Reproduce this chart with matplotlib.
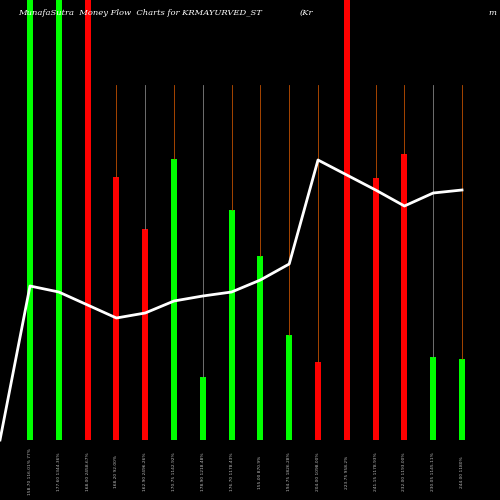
import matplotlib
matplotlib.use("Agg")
import matplotlib.pyplot as plt
import numpy as np

# bar heights (pixels above baseline), colours, line values
volumes = [520, 520, 520, 263, 211, 281, 63, 230, 184, 105, 78, 520, 262, 286, 83, 81]
colors = ["lime", "lime", "red", "red", "red", "lime", "lime", "lime", "lime", "lime",
          "red", "red", "red", "red", "lime", "lime"]
flow = [214, 208, 195, 182, 187, 199, 204, 208, 220, 236, 340, 325, 310, 294, 307, 310]
stem_colors = ["none", "none", "none", "#c05000", "gray", "#c05000", "gray", "#c05000",
               "#c05000", "#c05000", "#c05000", "none", "#c05000", "#c05000", "gray", "#c05000"]
labels = ["158.70 116.01% 77%", "177.60 1344.36%", "168.00 2458.67%", "168.20 92.00%",
          "162.90 2496.26%", "170.75 1142.92%", "178.90 1218.48%", "176.70 1178.43%",
          "155.00 870.9%", "194.75 1826.28%", "204.00 1098.00%", "223.75 958.2%",
          "241.15 1178.93%", "232.00 1193.00%", "230.05 1145.11%", "244.00 1180%"]

fig = plt.figure(figsize=(5, 5), dpi=100, facecolor="black")
ax = fig.add_axes([0, 0, 1, 1], facecolor="black")
ax.set_xlim(0, 500)
ax.set_ylim(0, 500)
ax.axis("off")

base = 60
x = 30 + 28.8 * np.arange(len(volumes))
for xi, v, c, sc in zip(x, volumes, colors, stem_colors):
    if sc != "none":
        ax.plot([xi, xi], [base + v, 415], color=sc, lw=0.6)
ax.bar(x, volumes, bottom=base, width=6, color=colors)
ax.plot(np.concatenate([[0], x]), np.concatenate([[60], flow]), color="white", lw=2)

for xi, lab in zip(x, labels):
    ax.text(xi, 28, lab, rotation=90, color="#bbbbbb", fontsize=3.2, ha="center", va="center")

ax.text(18, 487, "MunafaSutra  Money Flow  Charts for KRMAYURVED_ST", color="white",
        fontsize=6, style="italic", family="DejaVu Serif", va="center")
ax.text(300, 487, "(Kr", color="white", fontsize=6, style="italic", family="DejaVu Serif", va="center")
ax.text(488, 487, "m", color="white", fontsize=6, style="italic", family="DejaVu Serif", va="center")

fig.savefig("out.png", facecolor="black")
